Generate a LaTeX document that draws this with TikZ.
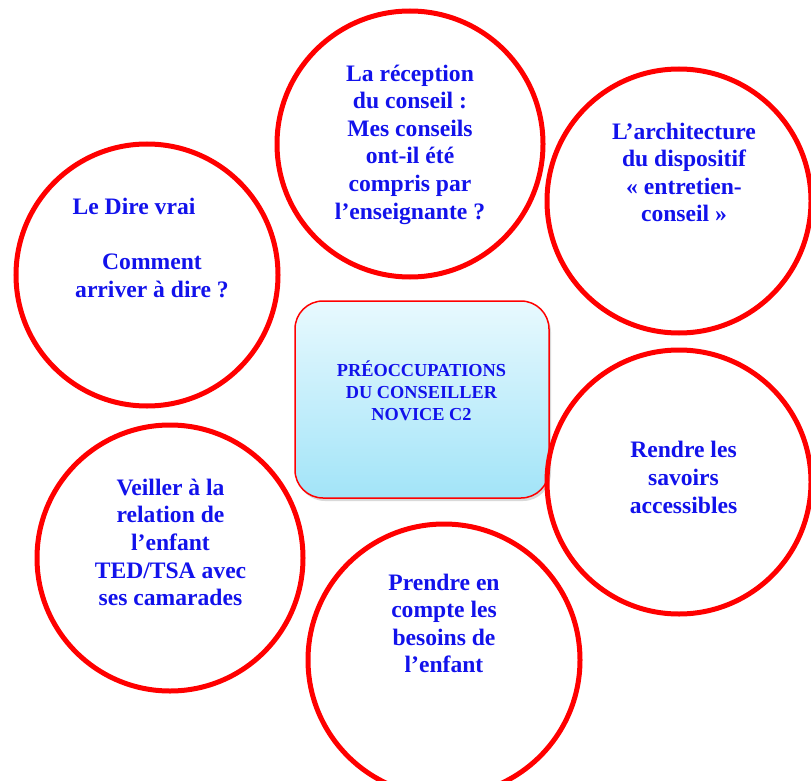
\documentclass[tikz,border=0pt]{standalone}
\usepackage{fontspec}
\setmainfont{Liberation Serif}[BoldFont={Liberation Serif Bold}, UprightFont={Liberation Serif}]
\newfontfamily\tnrbold{Liberation Serif Bold}
\definecolor{txtblue}{RGB}{18,18,235}
\definecolor{ringred}{RGB}{255,0,0}
\definecolor{boxtop}{RGB}{232,249,254}
\definecolor{boxbot}{RGB}{162,228,248}
\tikzset{
  ring/.style={circle, draw=ringred, line width=5pt, inner sep=0pt, minimum size=#1},
  ctext/.style={align=center, inner sep=0pt, text=txtblue, font=\tnrbold\fontsize{23.6}{27.6}\selectfont},
  btext/.style={align=center, inner sep=0pt, text=txtblue, font=\tnrbold\fontsize{18.3}{21.8}\selectfont},
  mainbox/.style={rectangle, rounded corners=28pt, draw=ringred, line width=1.5pt, top color=boxtop, bottom color=boxbot, minimum width=254pt, minimum height=197pt, inner sep=0pt}
}
\begin{document}
\begin{tikzpicture}[x=1pt,y=-1pt]
\useasboundingbox (0,0) rectangle (811,781);
\clip (0,0) rectangle (811,781);
% shadow and central box
\fill[black!15, rounded corners=28pt] (297,304) rectangle (551,501);
\node[mainbox] (box) at (422,399.5) {};
\node[btext] (boxtxt) at (421.5,391) {PRÉOCCUPATIONS\\DU CONSEILLER\\NOVICE C2};
% circles
\node[ring=266pt] (c1) at (410,144) {};
\node[ring=264pt] (c2) at (679,201) {};
\node[ring=262pt] (c3) at (147,275) {};
\node[ring=264pt] (c4) at (679,482) {};
\node[ring=266pt] (c5) at (170,558) {};
\node[ring=272pt] (c6) at (444,660) {};
% texts
\node[ctext] (t1) at (410,144.5) {La réception\\du conseil :\\Mes conseils\\ont-il été\\compris par\\l’enseignante ?};
\node[ctext] (t2) at (684,172.5) {L’architecture\\du dispositif\\« entretien-\\conseil »};
\node[ctext] (t3a) at (134,206) {Le Dire vrai};
\node[ctext] (t3b) at (152,276) {Comment\\arriver à dire ?};
\node[ctext] (t4) at (683.5,477.5) {Rendre les\\savoirs\\accessibles};
\node[ctext] (t5) at (170.5,542.5) {Veiller à la\\relation de\\l’enfant\\TED/TSA avec\\ses camarades};
\node[ctext] (t6) at (444,623.5) {Prendre en\\compte les\\besoins de\\l’enfant};
\end{tikzpicture}
\end{document}
